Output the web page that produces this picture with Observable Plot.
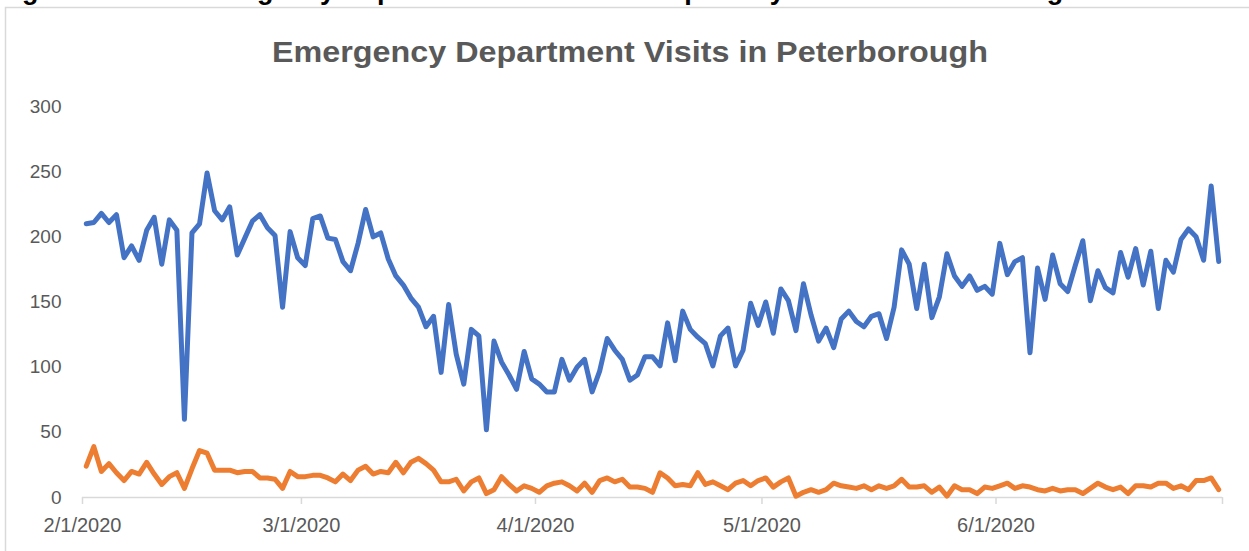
<!DOCTYPE html>
<html>
<head>
<meta charset="utf-8">
<script src="https://cdn.jsdelivr.net/npm/d3@7"></script>
<script src="https://cdn.jsdelivr.net/npm/@observablehq/plot@0.6"></script>
<style>
  html, body { margin: 0; padding: 0; background: #fff; }
  #wrap { position: relative; width: 1249px; height: 551px; overflow: hidden; background: #fff; font-family: "Liberation Sans", Arial, sans-serif; }
  #deco { position: absolute; left: 0; top: 0; display: block; }
  #chart { position: absolute; left: 0; top: 80px; }
</style>
</head>
<body>
<div id="wrap">
  <svg id="deco" width="1249" height="551">
    <text x="-2" y="-1.5" font-family="Liberation Sans, Arial, sans-serif" font-weight="bold" font-size="27" fill="#000">Figure 4: Total Emergency Department Visits and Respiratory Visits in Peterborough</text>
    <rect x="5.5" y="7.5" width="1400" height="700" fill="none" stroke="#d9d9d9" stroke-width="1.5"></rect>
    <text x="630" y="62" text-anchor="middle" font-family="Liberation Sans, Arial, sans-serif" font-weight="bold" font-size="29" fill="#595959" textLength="716" lengthAdjust="spacingAndGlyphs">Emergency Department Visits in Peterborough</text>
  </svg>
  <div id="chart"></div>
</div>
<script>
// Series values, one per day from 2/1/2020 to 6/30/2020
const totalVisits = [
  210,211,218,211,217,184,193,182,205,215,179,213,205,60,203,210,249,220,213,223,
  186,199,212,217,207,201,146,204,184,178,214,216,199,198,181,174,195,221,200,203,
  183,170,163,153,146,131,139,96,148,110,87,129,124,52,120,104,94,83,112,91,
  87,81,81,106,90,100,106,81,97,122,113,106,90,94,108,108,101,134,105,143,
  129,123,118,101,124,130,101,113,149,132,150,126,160,151,128,164,140,120,130,115,
  137,143,135,131,139,141,122,146,190,179,145,179,138,154,187,170,162,170,159,162,
  156,195,171,181,184,111,176,152,186,164,158,178,197,151,174,161,157,188,169,191,
  163,189,145,182,173,198,206,200,182,239,181
];
const respiratoryVisits = [
  24,39,20,26,19,13,20,18,27,18,10,16,19,7,22,36,34,21,21,21,
  19,20,20,15,15,14,7,20,16,16,17,17,15,12,18,13,21,24,18,20,
  19,27,19,27,30,26,21,12,12,14,5,12,15,3,6,16,10,5,9,7,
  4,9,11,12,9,5,11,4,13,15,12,14,8,8,7,4,19,15,9,10,
  9,19,10,12,9,6,11,13,9,13,15,8,12,15,1,4,6,4,6,11,
  9,8,7,9,6,9,7,9,14,8,8,9,4,8,1,9,6,6,3,8,
  7,9,11,7,9,8,6,5,7,5,6,6,3,7,11,8,6,8,3,9,
  9,8,11,11,7,9,6,13,13,15,6
];
const startDate = new Date(Date.UTC(2020, 1, 1));
const endDate = new Date(Date.UTC(2020, 6, 1));
const days = d3.utcDay.range(startDate, endDate); // 2/1/2020 .. 6/30/2020
const monthTicks = d3.utcMonth.range(startDate, d3.utcDay.offset(endDate, 1));
const yTicks = [0, 50, 100, 150, 200, 250, 300];

const rows = (vals) => vals.map((v, i) => ({date: d3.utcHour.offset(days[i], 12), value: v}));
const totalRows = rows(totalVisits);
const respRows = rows(respiratoryVisits);

const fmt = (d) => d.getUTCMonth() === 6 ? "" : `${d.getUTCMonth() + 1}/${d.getUTCDate()}/${d.getUTCFullYear()}`;

const chart = Plot.plot({
  width: 1249,
  height: 471,
  marginLeft: 82,
  marginRight: 27,
  marginTop: 26,
  marginBottom: 54,
  style: {fontFamily: "Liberation Sans, Arial, sans-serif", fontSize: "19px", color: "#595959", background: "transparent"},
  x: {type: "utc", domain: [startDate, endDate]},
  y: {domain: [0, 300]},
  marks: [
    Plot.axisY({ticks: yTicks, tickSize: 0, tickPadding: 21, label: null, fill: "#595959", fontSize: 19}),
    Plot.ruleY([0], {stroke: "#d9d9d9", strokeWidth: 1.5}),
    Plot.axisX({ticks: monthTicks, tickSize: 7, tickPadding: 13, tickFormat: fmt, label: null, stroke: "#d9d9d9", strokeWidth: 1.5, fill: "#595959", fontSize: 20}),
    Plot.line(totalRows, {x: "date", y: "value", stroke: "#4472C4", strokeWidth: 5, strokeLinejoin: "round", strokeLinecap: "round"}),
    Plot.line(respRows, {x: "date", y: "value", stroke: "#ED7D31", strokeWidth: 5, strokeLinejoin: "round", strokeLinecap: "round"})
  ]
});
document.getElementById("chart").appendChild(chart);
</script>
</body>
</html>
